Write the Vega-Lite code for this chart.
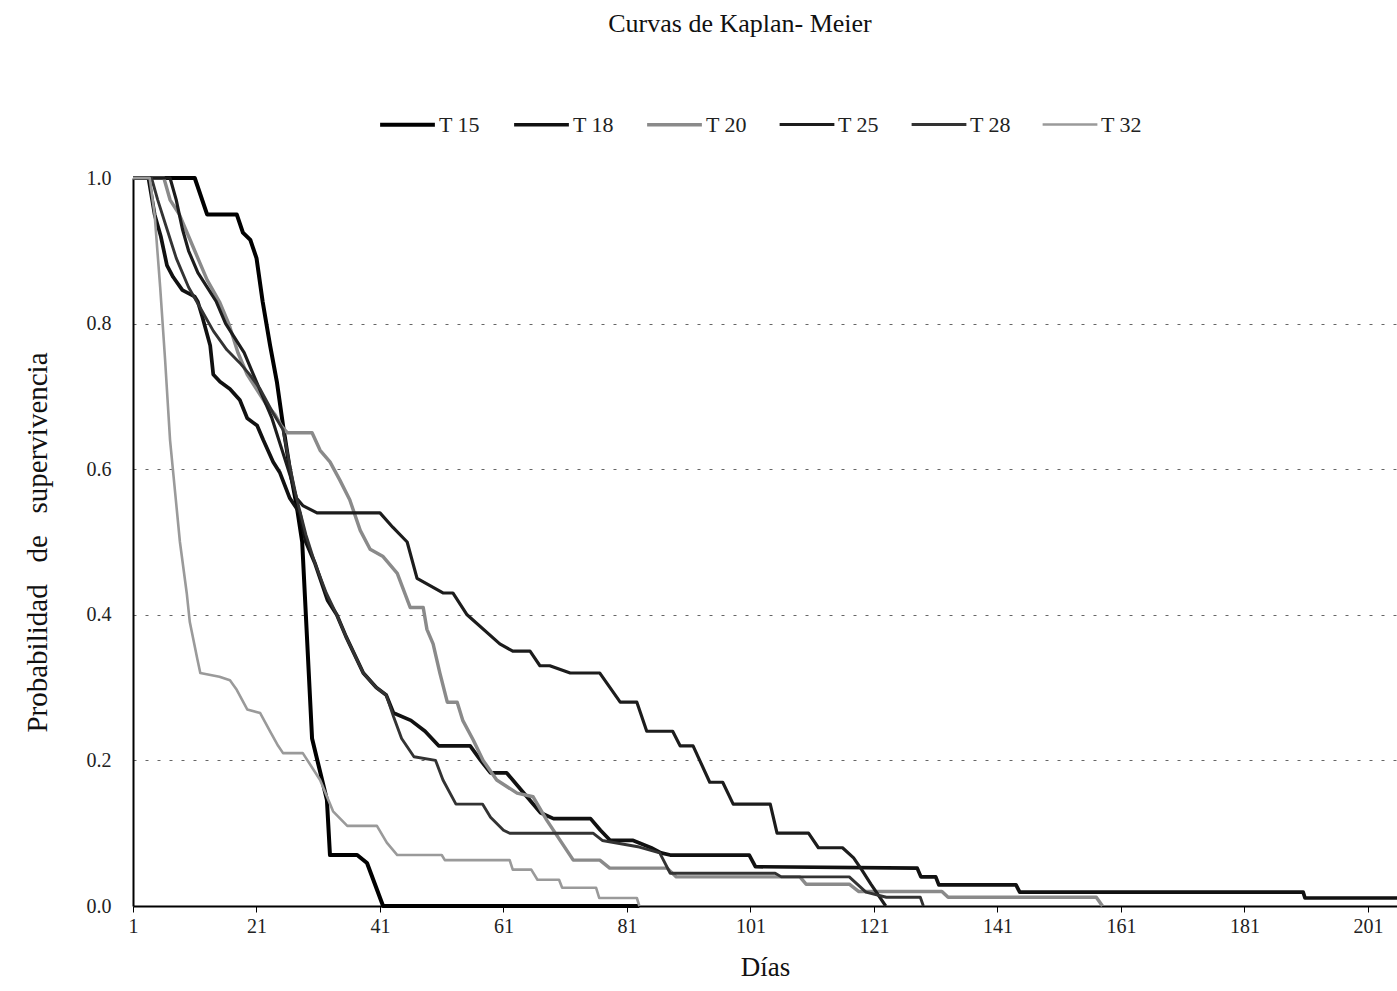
{
"$schema":"https://vega.github.io/schema/vega-lite/v6.json",
"width":1264,"height":728,
"autosize":{"type":"none"},
"padding":{"left":133,"top":178,"right":0,"bottom":85},
"background":"white",
"title":{"text":"Curvas de Kaplan- Meier","fontSize":26,"fontWeight":"normal","font":"Liberation Serif","anchor":"middle","dx":-25,"offset":58,"color":"#111"},
"config":{"font":"Liberation Serif","view":{"stroke":null}},
"data":{"values":[
{"s":"T 15","d":1,"p":1},{"s":"T 15","d":11,"p":1},{"s":"T 15","d":13,"p":0.95},{"s":"T 15","d":17.8,"p":0.95},{"s":"T 15","d":18.8,"p":0.925},{"s":"T 15","d":20,"p":0.915},{"s":"T 15","d":21,"p":0.89},{"s":"T 15","d":22,"p":0.83},{"s":"T 15","d":23.2,"p":0.77},{"s":"T 15","d":24.3,"p":0.72},{"s":"T 15","d":25.3,"p":0.66},{"s":"T 15","d":26.4,"p":0.6},{"s":"T 15","d":27.5,"p":0.55},{"s":"T 15","d":28.4,"p":0.5},{"s":"T 15","d":30,"p":0.23},{"s":"T 15","d":32.4,"p":0.146},{"s":"T 15","d":32.9,"p":0.07},{"s":"T 15","d":37.3,"p":0.07},{"s":"T 15","d":38.9,"p":0.059},{"s":"T 15","d":41.5,"p":0},{"s":"T 15","d":83,"p":0},
{"s":"T 18","d":1,"p":1},{"s":"T 18","d":3.5,"p":1},{"s":"T 18","d":4.5,"p":0.95},{"s":"T 18","d":5.5,"p":0.92},{"s":"T 18","d":6.5,"p":0.88},{"s":"T 18","d":7.5,"p":0.864},{"s":"T 18","d":9,"p":0.846},{"s":"T 18","d":11,"p":0.837},{"s":"T 18","d":11.5,"p":0.83},{"s":"T 18","d":12.2,"p":0.81},{"s":"T 18","d":13.5,"p":0.77},{"s":"T 18","d":14,"p":0.73},{"s":"T 18","d":15.1,"p":0.72},{"s":"T 18","d":16.7,"p":0.71},{"s":"T 18","d":18.3,"p":0.695},{"s":"T 18","d":19.5,"p":0.67},{"s":"T 18","d":21.1,"p":0.66},{"s":"T 18","d":22.1,"p":0.64},{"s":"T 18","d":23.7,"p":0.61},{"s":"T 18","d":24.8,"p":0.595},{"s":"T 18","d":26.4,"p":0.56},{"s":"T 18","d":28,"p":0.54},{"s":"T 18","d":29,"p":0.5},{"s":"T 18","d":30.5,"p":0.47},{"s":"T 18","d":32.5,"p":0.42},{"s":"T 18","d":34,"p":0.4},{"s":"T 18","d":35.5,"p":0.37},{"s":"T 18","d":38.3,"p":0.32},{"s":"T 18","d":40.4,"p":0.3},{"s":"T 18","d":42,"p":0.29},{"s":"T 18","d":43.2,"p":0.265},{"s":"T 18","d":46,"p":0.255},{"s":"T 18","d":48.3,"p":0.24},{"s":"T 18","d":50.5,"p":0.22},{"s":"T 18","d":55.6,"p":0.22},{"s":"T 18","d":57.3,"p":0.2},{"s":"T 18","d":58.9,"p":0.183},{"s":"T 18","d":61.5,"p":0.183},{"s":"T 18","d":63.8,"p":0.16},{"s":"T 18","d":67,"p":0.128},{"s":"T 18","d":69.1,"p":0.12},{"s":"T 18","d":75.1,"p":0.12},{"s":"T 18","d":76.7,"p":0.104},{"s":"T 18","d":78.3,"p":0.09},{"s":"T 18","d":82,"p":0.09},{"s":"T 18","d":84.9,"p":0.08},{"s":"T 18","d":86.5,"p":0.073},{"s":"T 18","d":88,"p":0.07},{"s":"T 18","d":100.8,"p":0.07},{"s":"T 18","d":101.8,"p":0.054},{"s":"T 18","d":128,"p":0.052},{"s":"T 18","d":128.6,"p":0.04},{"s":"T 18","d":131,"p":0.04},{"s":"T 18","d":131.5,"p":0.029},{"s":"T 18","d":144,"p":0.029},{"s":"T 18","d":144.6,"p":0.019},{"s":"T 18","d":190.5,"p":0.019},{"s":"T 18","d":190.8,"p":0.011},{"s":"T 18","d":205.7,"p":0.011},
{"s":"T 20","d":1,"p":1},{"s":"T 20","d":6,"p":1},{"s":"T 20","d":7,"p":0.97},{"s":"T 20","d":8.5,"p":0.95},{"s":"T 20","d":10,"p":0.92},{"s":"T 20","d":11.5,"p":0.89},{"s":"T 20","d":13,"p":0.86},{"s":"T 20","d":15,"p":0.83},{"s":"T 20","d":16.5,"p":0.8},{"s":"T 20","d":18,"p":0.76},{"s":"T 20","d":19.5,"p":0.73},{"s":"T 20","d":21,"p":0.71},{"s":"T 20","d":22.5,"p":0.69},{"s":"T 20","d":24,"p":0.675},{"s":"T 20","d":25,"p":0.66},{"s":"T 20","d":26,"p":0.65},{"s":"T 20","d":30,"p":0.65},{"s":"T 20","d":31.3,"p":0.626},{"s":"T 20","d":32.9,"p":0.61},{"s":"T 20","d":34.5,"p":0.585},{"s":"T 20","d":36.1,"p":0.558},{"s":"T 20","d":37.8,"p":0.516},{"s":"T 20","d":39.4,"p":0.49},{"s":"T 20","d":41.5,"p":0.48},{"s":"T 20","d":43.8,"p":0.457},{"s":"T 20","d":45.9,"p":0.41},{"s":"T 20","d":48,"p":0.41},{"s":"T 20","d":48.6,"p":0.38},{"s":"T 20","d":49.6,"p":0.36},{"s":"T 20","d":50.7,"p":0.32},{"s":"T 20","d":51.9,"p":0.28},{"s":"T 20","d":53.5,"p":0.28},{"s":"T 20","d":54.4,"p":0.255},{"s":"T 20","d":56.1,"p":0.228},{"s":"T 20","d":57.7,"p":0.2},{"s":"T 20","d":59.9,"p":0.173},{"s":"T 20","d":63.2,"p":0.155},{"s":"T 20","d":65.8,"p":0.15},{"s":"T 20","d":68,"p":0.118},{"s":"T 20","d":72.3,"p":0.063},{"s":"T 20","d":76.6,"p":0.063},{"s":"T 20","d":78.2,"p":0.052},{"s":"T 20","d":87.5,"p":0.052},{"s":"T 20","d":89,"p":0.04},{"s":"T 20","d":109,"p":0.04},{"s":"T 20","d":110,"p":0.03},{"s":"T 20","d":117,"p":0.03},{"s":"T 20","d":118.5,"p":0.02},{"s":"T 20","d":132,"p":0.02},{"s":"T 20","d":133,"p":0.012},{"s":"T 20","d":157,"p":0.012},{"s":"T 20","d":158,"p":0},
{"s":"T 25","d":1,"p":1},{"s":"T 25","d":7,"p":1},{"s":"T 25","d":8,"p":0.97},{"s":"T 25","d":9,"p":0.93},{"s":"T 25","d":10,"p":0.9},{"s":"T 25","d":11.5,"p":0.87},{"s":"T 25","d":13,"p":0.85},{"s":"T 25","d":14.5,"p":0.83},{"s":"T 25","d":16,"p":0.8},{"s":"T 25","d":17.5,"p":0.78},{"s":"T 25","d":19,"p":0.76},{"s":"T 25","d":20.5,"p":0.73},{"s":"T 25","d":22,"p":0.7},{"s":"T 25","d":23.5,"p":0.67},{"s":"T 25","d":25,"p":0.63},{"s":"T 25","d":26.5,"p":0.59},{"s":"T 25","d":27.5,"p":0.56},{"s":"T 25","d":28.5,"p":0.55},{"s":"T 25","d":30.8,"p":0.54},{"s":"T 25","d":41,"p":0.54},{"s":"T 25","d":43.1,"p":0.52},{"s":"T 25","d":45.4,"p":0.5},{"s":"T 25","d":47,"p":0.45},{"s":"T 25","d":51.2,"p":0.43},{"s":"T 25","d":52.8,"p":0.43},{"s":"T 25","d":55.1,"p":0.4},{"s":"T 25","d":60.4,"p":0.36},{"s":"T 25","d":62.5,"p":0.35},{"s":"T 25","d":65.3,"p":0.35},{"s":"T 25","d":66.9,"p":0.33},{"s":"T 25","d":68.5,"p":0.33},{"s":"T 25","d":71.8,"p":0.32},{"s":"T 25","d":76.6,"p":0.32},{"s":"T 25","d":79.9,"p":0.28},{"s":"T 25","d":82.6,"p":0.28},{"s":"T 25","d":84.2,"p":0.24},{"s":"T 25","d":88.4,"p":0.24},{"s":"T 25","d":89.6,"p":0.22},{"s":"T 25","d":91.7,"p":0.22},{"s":"T 25","d":94.4,"p":0.17},{"s":"T 25","d":96.5,"p":0.17},{"s":"T 25","d":98.2,"p":0.14},{"s":"T 25","d":104.2,"p":0.14},{"s":"T 25","d":105.3,"p":0.1},{"s":"T 25","d":110.4,"p":0.1},{"s":"T 25","d":112,"p":0.08},{"s":"T 25","d":115.9,"p":0.08},{"s":"T 25","d":117.7,"p":0.066},{"s":"T 25","d":119,"p":0.05},{"s":"T 25","d":120.5,"p":0.03},{"s":"T 25","d":122.9,"p":0},
{"s":"T 28","d":1,"p":1},{"s":"T 28","d":4,"p":1},{"s":"T 28","d":5,"p":0.97},{"s":"T 28","d":6.5,"p":0.93},{"s":"T 28","d":8,"p":0.89},{"s":"T 28","d":10,"p":0.85},{"s":"T 28","d":12,"p":0.82},{"s":"T 28","d":14,"p":0.79},{"s":"T 28","d":16.2,"p":0.764},{"s":"T 28","d":18.3,"p":0.746},{"s":"T 28","d":19.9,"p":0.73},{"s":"T 28","d":21.6,"p":0.71},{"s":"T 28","d":23.7,"p":0.677},{"s":"T 28","d":25.3,"p":0.654},{"s":"T 28","d":26.5,"p":0.6},{"s":"T 28","d":27.5,"p":0.56},{"s":"T 28","d":29,"p":0.51},{"s":"T 28","d":30.5,"p":0.47},{"s":"T 28","d":32.3,"p":0.43},{"s":"T 28","d":34,"p":0.4},{"s":"T 28","d":35.5,"p":0.37},{"s":"T 28","d":38.3,"p":0.32},{"s":"T 28","d":40.4,"p":0.3},{"s":"T 28","d":42,"p":0.29},{"s":"T 28","d":43.2,"p":0.26},{"s":"T 28","d":44.5,"p":0.23},{"s":"T 28","d":46.5,"p":0.205},{"s":"T 28","d":50,"p":0.2},{"s":"T 28","d":51.2,"p":0.173},{"s":"T 28","d":53.3,"p":0.14},{"s":"T 28","d":57.6,"p":0.14},{"s":"T 28","d":58.9,"p":0.122},{"s":"T 28","d":61,"p":0.104},{"s":"T 28","d":62,"p":0.1},{"s":"T 28","d":75.5,"p":0.1},{"s":"T 28","d":77,"p":0.09},{"s":"T 28","d":83,"p":0.081},{"s":"T 28","d":86.3,"p":0.073},{"s":"T 28","d":88,"p":0.045},{"s":"T 28","d":105,"p":0.045},{"s":"T 28","d":106,"p":0.04},{"s":"T 28","d":117,"p":0.04},{"s":"T 28","d":119.7,"p":0.019},{"s":"T 28","d":123,"p":0.012},{"s":"T 28","d":128.5,"p":0.012},{"s":"T 28","d":129,"p":0},
{"s":"T 32","d":1,"p":1},{"s":"T 32","d":3.7,"p":1},{"s":"T 32","d":4.5,"p":0.95},{"s":"T 32","d":5.4,"p":0.85},{"s":"T 32","d":6.2,"p":0.75},{"s":"T 32","d":7,"p":0.64},{"s":"T 32","d":8.6,"p":0.5},{"s":"T 32","d":9.7,"p":0.43},{"s":"T 32","d":10.2,"p":0.39},{"s":"T 32","d":11.4,"p":0.34},{"s":"T 32","d":11.9,"p":0.32},{"s":"T 32","d":15,"p":0.315},{"s":"T 32","d":16.7,"p":0.31},{"s":"T 32","d":17.8,"p":0.297},{"s":"T 32","d":19.5,"p":0.27},{"s":"T 32","d":21.6,"p":0.265},{"s":"T 32","d":23.2,"p":0.24},{"s":"T 32","d":24.5,"p":0.22},{"s":"T 32","d":25.3,"p":0.21},{"s":"T 32","d":28.5,"p":0.21},{"s":"T 32","d":31.3,"p":0.173},{"s":"T 32","d":33.4,"p":0.13},{"s":"T 32","d":35.7,"p":0.11},{"s":"T 32","d":40.5,"p":0.11},{"s":"T 32","d":42.1,"p":0.087},{"s":"T 32","d":43.8,"p":0.07},{"s":"T 32","d":51,"p":0.07},{"s":"T 32","d":51.5,"p":0.063},{"s":"T 32","d":62,"p":0.063},{"s":"T 32","d":62.5,"p":0.05},{"s":"T 32","d":65.5,"p":0.05},{"s":"T 32","d":66.5,"p":0.036},{"s":"T 32","d":70,"p":0.036},{"s":"T 32","d":70.5,"p":0.025},{"s":"T 32","d":76,"p":0.025},{"s":"T 32","d":76.5,"p":0.011},{"s":"T 32","d":82.6,"p":0.011},{"s":"T 32","d":83,"p":0}
]},
"mark":{"type":"line","interpolate":"linear","strokeJoin":"round"},
"encoding":{
"x":{"field":"d","type":"quantitative","scale":{"domain":[1,205.7],"nice":false,"zero":false},
"axis":{"values":[1,21,41,61,81,101,121,141,161,181,201],"title":"Días","titleFontSize":27,"titleFontWeight":"normal","titleColor":"#111","titlePadding":18,"labelFontSize":20,"labelColor":"#222","tickSize":6,"tickColor":"#000","domainColor":"#000","domainWidth":2,"grid":false,"labelPadding":4,"labelFlush":false}},
"y":{"field":"p","type":"quantitative","scale":{"domain":[0,1],"nice":false},
"axis":{"values":[0,0.2,0.4,0.6,0.8,1],"format":".1f","title":"Probabilidad\u00a0\u00a0 de\u00a0\u00a0 supervivencia","titleFontSize":29,"titleFontWeight":"normal","titleColor":"#111","titlePadding":34,"labelFontSize":20,"labelColor":"#222","tickSize":0,"labelPadding":22,"domainColor":"#000","domainWidth":2,"grid":true,"gridDash":[3,9],"gridColor":"#666","gridWidth":1,"gridOpacity":{"condition":{"test":"datum.value === 1 || datum.value === 0","value":0},"value":1}}},
"color":{"field":"s","type":"nominal","scale":{"domain":["T 15","T 18","T 20","T 25","T 28","T 32"],"range":["#000000","#111111","#8a8a8a","#1c1c1c","#333333","#9a9a9a"]},
"legend":{"orient":"none","legendX":245,"legendY":-83,"direction":"horizontal","title":null,"symbolType":"stroke","symbolSize":3000,"labelFontSize":22,"labelColor":"#222","columnPadding":26,"labelOffset":2}},
"strokeWidth":{"field":"s","type":"nominal","scale":{"domain":["T 15","T 18","T 20","T 25","T 28","T 32"],"range":[4,2.6,1.4,2.6,2.3,1.4]},"legend":null}
}
}
